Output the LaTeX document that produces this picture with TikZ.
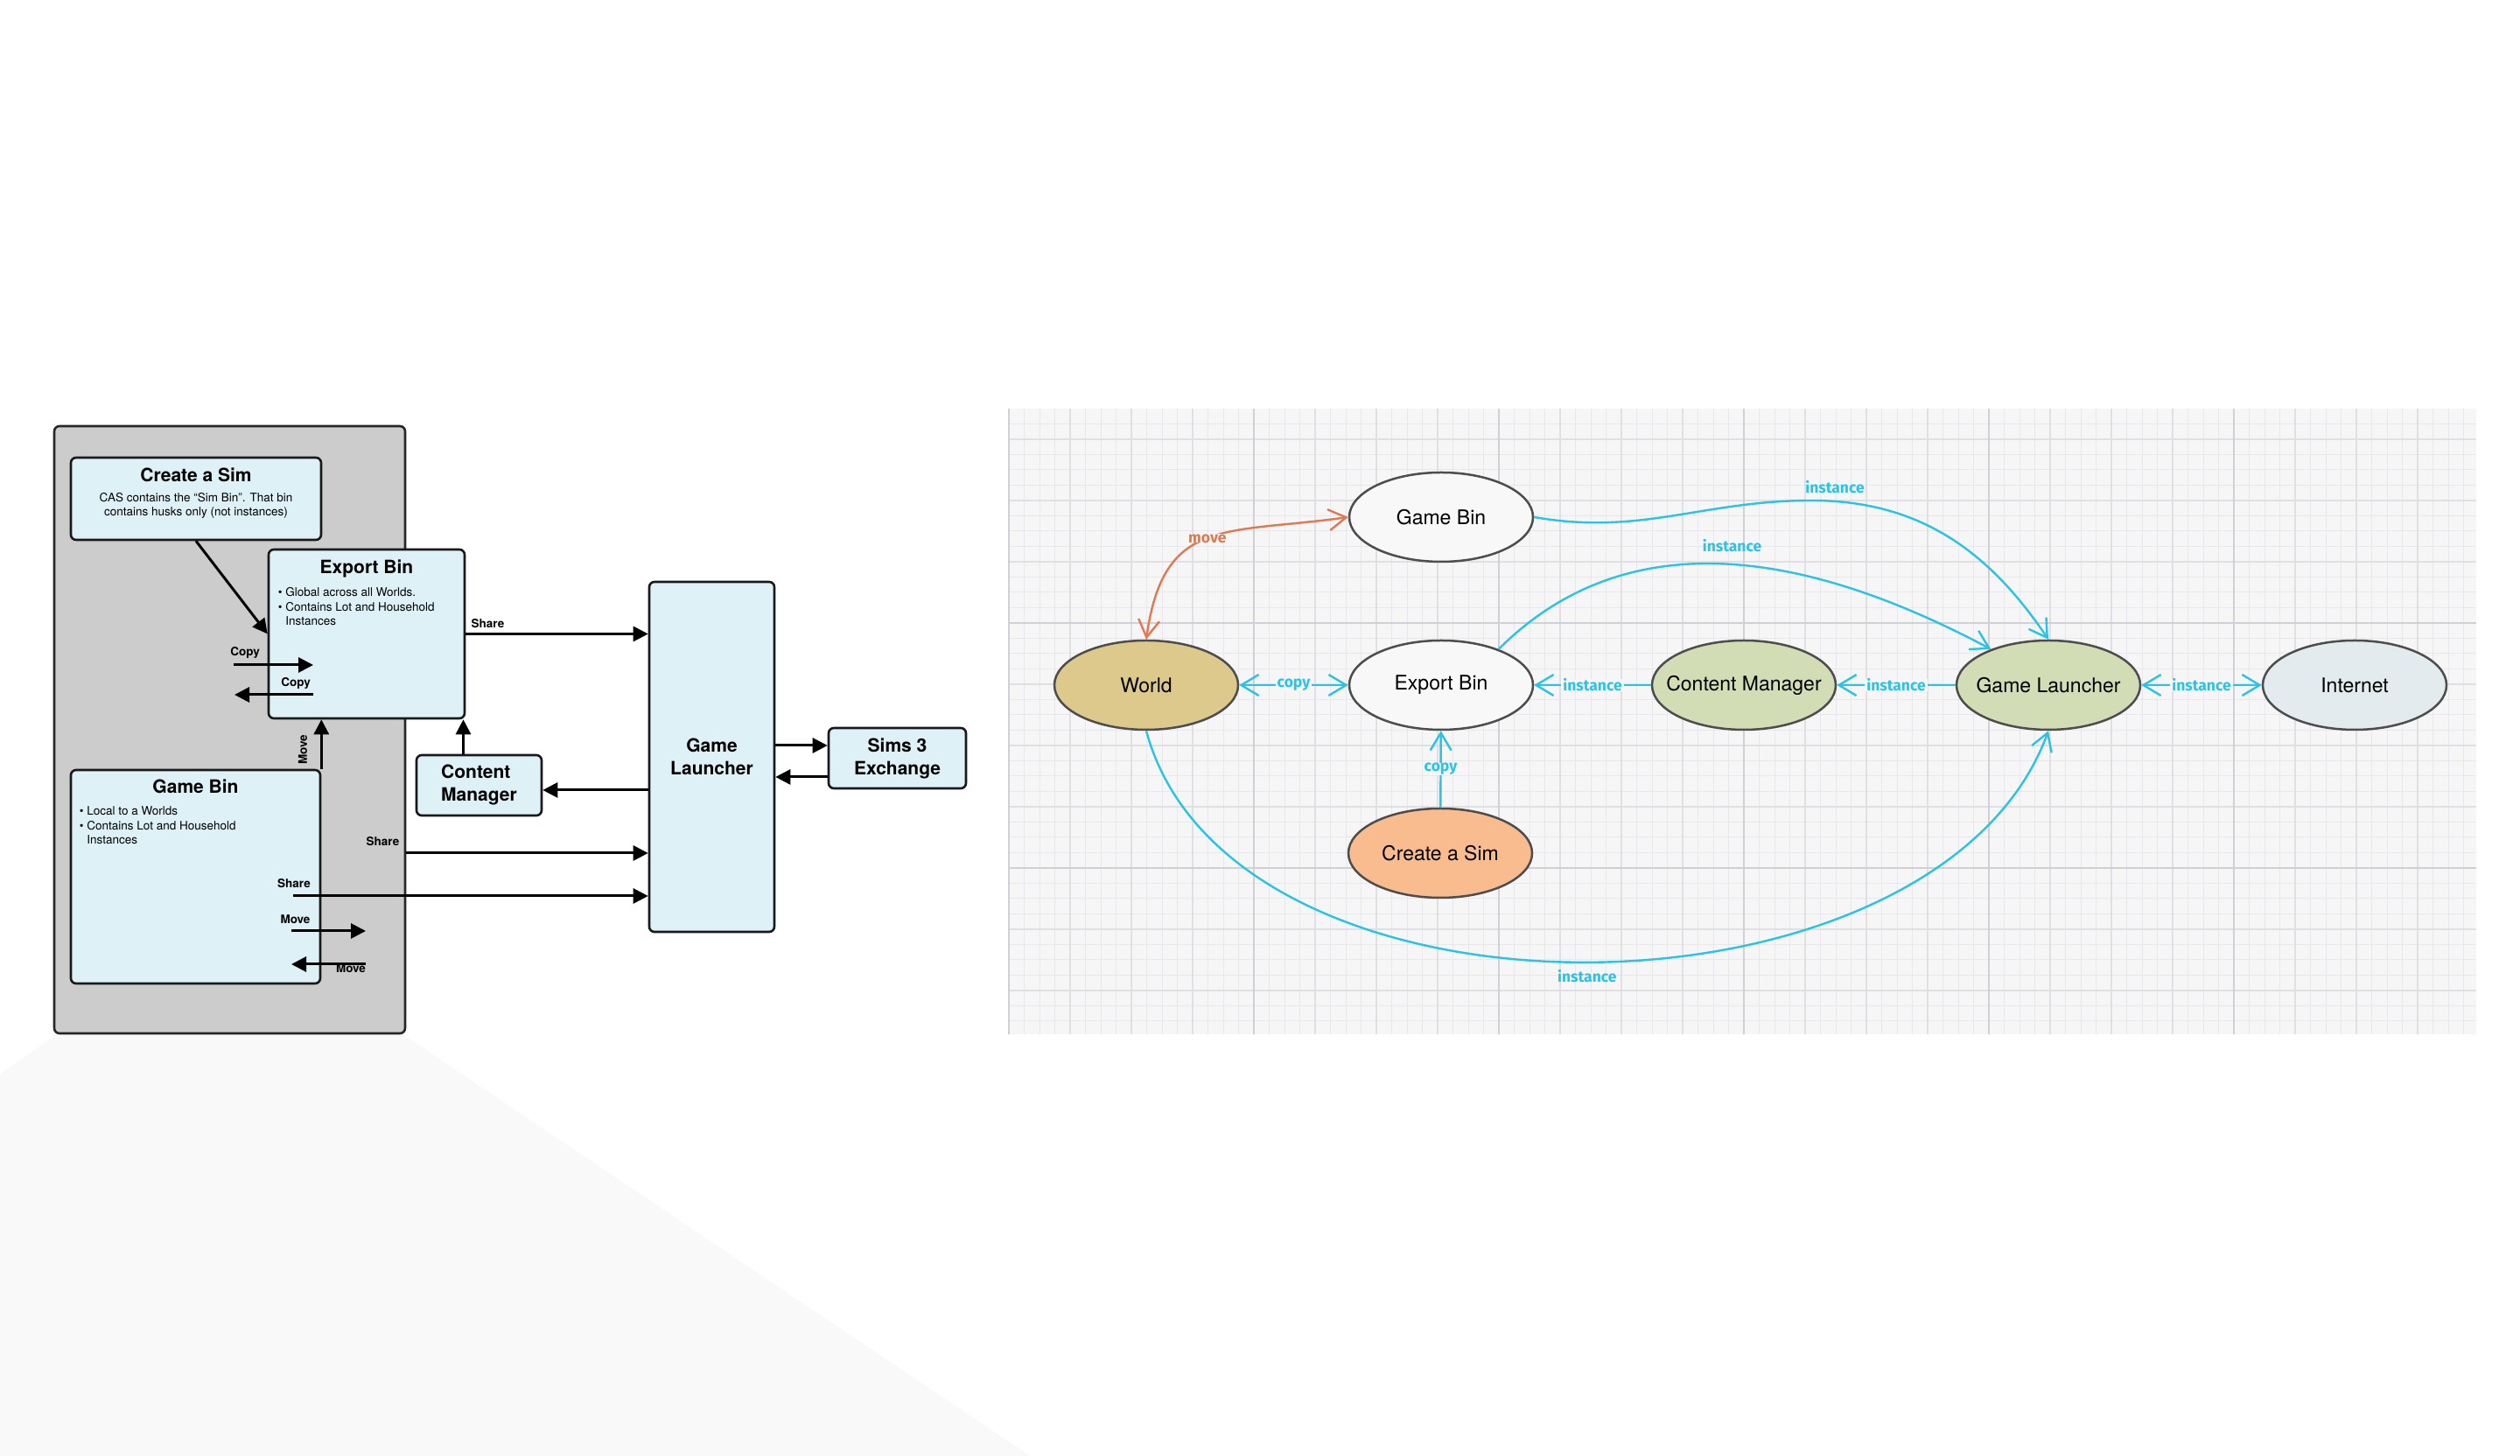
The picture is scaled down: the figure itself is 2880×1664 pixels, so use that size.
\documentclass[tikz,border=0pt]{standalone}
\usepackage{fontspec}
\setmainfont{TeX Gyre Heros}
\newfontfamily\tagfont{Fira Sans}
\usepackage{tikz}
\usetikzlibrary{arrows.meta,positioning,shapes.geometric}

\definecolor{panelgray}{HTML}{CCCCCC}
\definecolor{boxblue}{HTML}{DDF1F7}
\definecolor{backdrop}{HTML}{F9F9F9}
\definecolor{gridbg}{HTML}{F6F6F7}
\definecolor{gridfine}{HTML}{E8E8EC}
\definecolor{gridmid}{HTML}{DFDFE4}
\definecolor{gridmajor}{HTML}{D0D0D6}
\definecolor{worldtan}{HTML}{DDC98B}
\definecolor{sage}{HTML}{D2DDB6}
\definecolor{netblue}{HTML}{E3EBEE}
\definecolor{peach}{HTML}{F9BC8F}
\definecolor{binwhite}{HTML}{F8F8F8}
\definecolor{ringgray}{HTML}{4D4D4D}
\definecolor{linkcyan}{HTML}{2BC3E5}
\definecolor{moveorange}{HTML}{E07852}

\begin{document}
\begin{tikzpicture}[x=1pt,y=1pt,
  panel/.style={draw=black!85, line width=2.6pt, fill=panelgray, rounded corners=6pt},
  box/.style={draw=black!90, line width=2.6pt, fill=boxblue, rounded corners=6pt, inner sep=0pt},
  boxtitle/.style={font=\fontsize{21}{26}\selectfont\bfseries, inner sep=0pt},
  boxnote/.style={font=\fontsize{13.5}{16.5}\selectfont, align=left, inner sep=0pt},
  flowtag/.style={font=\fontsize{13.5}{16}\selectfont\bfseries, inner sep=0pt, anchor=base},
  flow/.style={line width=3pt, >={Triangle[length=17pt,width=17pt]}, ->},
  blob/.style={ellipse, draw=ringgray, line width=2.5pt, minimum width=210pt, minimum height=102pt, inner sep=0pt, font=\fontsize{23}{27}\selectfont},
  link/.style={draw=linkcyan, line width=2.4pt, >={Straight Barb[length=20pt,width=24pt]}},
  movelink/.style={link, draw=moveorange},
  linktag/.style={font=\tagfont\fontsize{17.5}{20}\selectfont\bfseries, text=linkcyan, fill=gridbg, inner xsep=2pt, inner ysep=0pt},
  movetag/.style={linktag, text=moveorange}]
  \fill[white] (0,0) rectangle (2880,1664);
  \useasboundingbox (0,0) rectangle (2880,1664);

  % faint backdrop under the left figure
  \fill[backdrop] (0,436) -- (65,482) -- (460,482) -- (1177,0) -- (0,0) -- cycle;

  % left figure: bins inside the game
  \node[panel, minimum width=401pt, minimum height=694pt] (sims) at (262.5,830) {};
  \node[box, minimum width=286pt, minimum height=94pt] (cas) at (224,1094) {};
  \node[boxtitle, below=13pt of cas.north] (castitle) {Create a Sim};
  \node[boxnote, align=center, below=12pt of castitle] (casnote) {CAS contains the “Sim Bin”. That bin\\contains husks only (not instances)};
  \node[box, minimum width=224pt, minimum height=193pt] (ebin) at (419,939.5) {};
  \node[boxtitle, below=13pt of ebin.north] (ebintitle) {Export Bin};
  \node[boxnote, below right=45pt and 12pt of ebin.north west] (ebinnote) {\textbullet\ Global across all Worlds.\\\textbullet\ Contains Lot and Household\\\hphantom{\textbullet\ }Instances};
  \node[box, minimum width=285pt, minimum height=244pt] (gbin) at (223.5,662) {};
  \node[boxtitle, below=12pt of gbin.north] (gbintitle) {Game Bin};
  \node[boxnote, below right=43pt and 11pt of gbin.north west] (gbinnote) {\textbullet\ Local to a Worlds\\\textbullet\ Contains Lot and Household\\\hphantom{\textbullet\ }Instances};
  \node[box, boxtitle, align=left, minimum width=143pt, minimum height=69pt] (cm) at (547.5,766.5) {Content\\Manager};
  \node[box, boxtitle, align=center, minimum width=143pt, minimum height=400pt] (gl) at (813.5,799) {Game\\Launcher};
  \node[box, boxtitle, align=center, minimum width=157pt, minimum height=69pt] (s3) at (1025.5,797.5) {Sims 3\\Exchange};

  \coordinate (copyinA) at (267,904);
  \coordinate (copyinB) at (358,904);
  \coordinate (copyoutA) at (358,870);
  \coordinate (copyoutB) at (268,870);
  \coordinate (gbshare) at (335,640);
  \coordinate (moveoutA) at (333,600);
  \coordinate (moveoutB) at (418,600);
  \coordinate (moveinA) at (418,562);
  \coordinate (moveinB) at (333,562);

  \node[flowtag] (copytagA) at (280,914) {Copy};
  \node[flowtag] (copytagB) at (338,879) {Copy};
  \node[flowtag, anchor=center, rotate=90] (movetagA) at (346,807) {Move};
  \node[flowtag] (sharetagA) at (557.5,946) {Share};
  \node[flowtag] (sharetagB) at (437.5,697.5) {Share};
  \node[flowtag] (sharetagC) at (336,649) {Share};
  \node[flowtag] (movetagB) at (337.5,608.5) {Move};
  \node[flowtag] (movetagC) at (401,552) {Move};

  \draw[flow] (cas.south) -- (ebin.west);
  \draw[flow] (copyinA) -- (copyinB);
  \draw[flow] (copyoutA) -- (copyoutB);
  \draw[flow] (gbin.north east) -- (gbin.north east |- ebin.south);
  \draw[flow] (ebin.east) -- (ebin.east -| gl.west);
  \draw[flow] ([xshift=-18pt]cm.north) -- ([xshift=-18pt]cm.north |- ebin.south);
  \draw[flow] ([yshift=-5.5pt]cm.east -| gl.west) -- ([yshift=-5.5pt]cm.east);
  \draw[flow] ([yshift=-141pt]sims.east) -- ([yshift=-141pt]sims.east -| gl.west);
  \draw[flow] (gbshare) -- (gbshare -| gl.west);
  \draw[flow] (moveoutA) -- (moveoutB);
  \draw[flow] (moveinA) -- (moveinB);
  \draw[flow] ([yshift=14.5pt]s3.west -| gl.east) -- ([yshift=14.5pt]s3.west);
  \draw[flow] ([yshift=-21.5pt]s3.west) -- ([yshift=-21.5pt]s3.west -| gl.east);

  % right figure: graph paper
  \fill[gridbg] (1153,482) rectangle (2830,1197);
  \foreach \k in {0,...,95}
    \draw[gridfine, line width=1pt] ({1153+17.5*\k},482) -- ({1153+17.5*\k},1197);
  \foreach \k in {1,...,40}
    \draw[gridfine, line width=1pt] (1153,{479.5+17.5*\k}) -- (2830,{479.5+17.5*\k});
  \foreach \k in {0,...,23}
    \draw[gridmid, line width=1.5pt] ({1153+70*\k},482) -- ({1153+70*\k},1197);
  \foreach \k in {0,...,9}
    \draw[gridmid, line width=1.5pt] (1153,{532+70*\k}) -- (2830,{532+70*\k});
  \foreach \k in {0,...,5}
    \draw[gridmajor, line width=2pt] ({1153+280*\k},482) -- ({1153+280*\k},1197);
  \foreach \gy in {672,952}
    \draw[gridmajor, line width=2pt] (1153,\gy) -- (2830,\gy);

  \node[blob, fill=worldtan] (world) at (1310,881) {World};
  \node[blob, fill=binwhite] (gamebin) at (1647,1073) {Game Bin};
  \node[blob, fill=binwhite] (exportbin) at (1647,881) {Export Bin};
  \node[blob, fill=sage] (content) at (1993,881) {\makebox[0pt]{Content Manager}};
  \node[blob, fill=sage] (launcher) at (2341,881) {\makebox[0pt]{Game Launcher}};
  \node[blob, fill=netblue] (internet) at (2691,881) {Internet};
  \node[blob, fill=peach] (cassim) at (1646,689) {Create a Sim};

  \draw[movelink,<->] (world.north) to[out=82,in=188,looseness=1.35] node[movetag] (movetag) {move} (gamebin.west);
  \draw[link,<->] (world) -- node[linktag] (copytag) {copy} (exportbin);
  \draw[link,->] (content) -- node[linktag] (insttagA) {instance} (exportbin);
  \draw[link,->] (launcher) -- node[linktag] (insttagB) {instance} (content);
  \draw[link,<->] (launcher) -- node[linktag] (insttagC) {instance} (internet);
  \draw[link,->] (cassim) -- node[linktag] (copytagC) {copy} (exportbin);
  \coordinate (binpeak) at (2070,1092);
  \draw[link,->] (gamebin.east) to[out=-10,in=180] (binpeak) to[out=0,in=124] (launcher.north);
  \node[linktag, fill=none] (insttagD) at (2097,1107) {instance};
  \draw[link,->] (exportbin.32) to[out=45,in=152] node[linktag, fill=none, above=13pt] (insttagE) {instance} (launcher.148);
  \draw[link,->] (world.south) .. controls (1406,472) and (2214,481) .. (launcher.south)
    node[linktag, fill=none, pos=0.5, below=8pt] (insttagF) {instance};
\end{tikzpicture}
\end{document}
